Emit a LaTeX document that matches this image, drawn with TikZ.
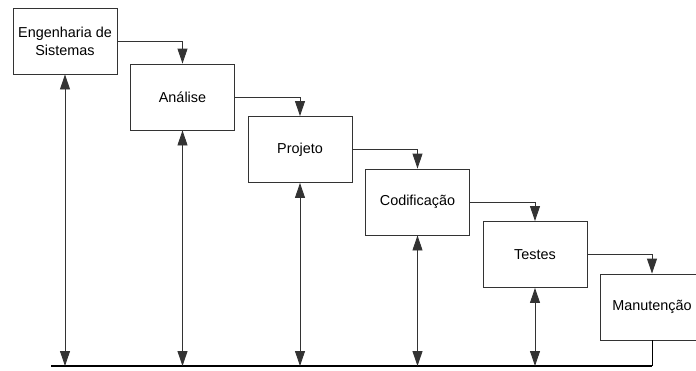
\documentclass[tikz,border=0pt]{standalone}
\usepackage{fontspec}
\setmainfont{Liberation Sans}
\usetikzlibrary{arrows.meta}
\begin{document}
\begin{tikzpicture}[x=1pt,y=-1pt,
 phase/.style={draw=black!80, line width=0.9pt, minimum width=104pt, minimum height=66pt, inner sep=0pt, align=center, font=\fontsize{14.4}{18}\selectfont},
 flow/.style={draw=black!80, line width=0.9pt, -{Triangle[length=15pt,width=10pt]}},
 dbl/.style={draw=black!80, line width=0.9pt, {Triangle[length=15pt,width=10pt]}-{Triangle[length=15pt,width=10pt]}},
 base/.style={draw=black, line width=2pt}]
\useasboundingbox (0,0) rectangle (696,370);
\clip (0,0) rectangle (696,370);
\node[phase] (b1) at (65,41) {Engenharia de\\Sistemas};
\node[phase] (b2) at (182.5,97) {Análise};
\node[phase] (b3) at (300,149.5) {Projeto};
\node[phase] (b4) at (417.5,202) {Codificação};
\node[phase] (b5) at (535,254.5) {Testes};
\node[phase] (b6) at (652,307) {Manutenção};
\coordinate (bl) at (51,366);
\coordinate (br) at (b6.south |- bl);
\draw[base] (bl) -- (br);
\draw[draw=black, line width=0.9pt] (b6.south) -- (br);
\foreach \a/\b in {b1/b2,b2/b3,b3/b4,b4/b5,b5/b6}{
  \draw[flow] (\a.east) -| (\b.north);
}
\foreach \a in {b1,b2,b3,b4,b5}{
  \draw[dbl] (\a.south) -- (\a.south |- bl);
}
\end{tikzpicture}
\end{document}
